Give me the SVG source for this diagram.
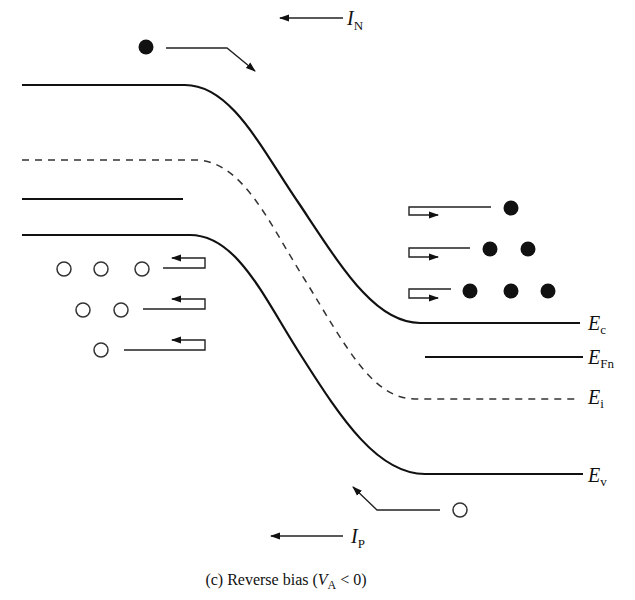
<svg xmlns="http://www.w3.org/2000/svg" width="635" height="600" viewBox="0 0 635 600">
<style>
.band{fill:none;stroke:#111;stroke-width:2.2}
.dash{fill:none;stroke:#333;stroke-width:1.5;stroke-dasharray:7,6}
.ar{fill:none;stroke:#222;stroke-width:1.4}
.e{fill:#111}
.h{fill:#fff;stroke:#333;stroke-width:1.5}
text{font-family:"Liberation Serif","Times New Roman",serif;fill:#111}
.lab{font-size:20px;font-style:italic}
.sub{font-size:13px;font-style:normal}
</style>
<defs>
<marker id="ah" markerWidth="10" markerHeight="8" refX="9" refY="4" orient="auto" markerUnits="userSpaceOnUse">
<path d="M0,0.5 L10,4 L0,7.5 Z" fill="#111"/>
</marker>
</defs>
<rect width="635" height="600" fill="#fff"/>
<g id="bands">
<path id="Ec" class="band" d="M22,85 H185 C232,85 262,150 300,205 C342,268 375,323 420,323 H580"/>
<path id="EFp" class="band" d="M22,199 H183"/>
<path id="Ei" class="dash" d="M22,160 H195 C243,160 270,225 305,280 C345,345 372,399 415,399 H580"/>
<path id="Ev" class="band" d="M22,235 H190 C238,235 265,300 302,357 C342,420 378,474 425,474 H583"/>
<path id="EFn" class="band" d="M425,357 H583"/>
</g>
<g id="labels">
<text class="lab" x="588" y="330">E<tspan class="sub" dy="4">c</tspan></text>
<text class="lab" x="588" y="364">E<tspan class="sub" dy="4">Fn</tspan></text>
<text class="lab" x="588" y="404">E<tspan class="sub" dy="4">i</tspan></text>
<text class="lab" x="588" y="482">E<tspan class="sub" dy="4">v</tspan></text>
<text class="lab" x="347" y="25">I<tspan class="sub" dy="5">N</tspan></text>
<text class="lab" x="351" y="543">I<tspan class="sub" dy="5">P</tspan></text>
<text x="286" y="585" font-size="16" text-anchor="middle">(c) Reverse bias (<tspan font-style="italic">V</tspan><tspan font-size="12" dy="4">A</tspan><tspan dy="-4"> &lt; 0)</tspan></text>
</g>
<g id="connectors">
<path class="ar" d="M343,18 H280" marker-end="url(#ah)"/>
<path class="ar" d="M166,48 H227 L255,71" marker-end="url(#ah)"/>
<path class="ar" d="M343,536 H271" marker-end="url(#ah)"/>
<path class="ar" d="M440,510 H377 L353,487" marker-end="url(#ah)"/>
<path class="ar" d="M491,207 H409 V215 H438" marker-end="url(#ah)"/>
<path class="ar" d="M470,248 H409 V257 H438" marker-end="url(#ah)"/>
<path class="ar" d="M451,289 H409 V298 H438" marker-end="url(#ah)"/>
<path class="ar" d="M163,268 H205 V258 H172" marker-end="url(#ah)"/>
<path class="ar" d="M143,309 H205 V299 H172" marker-end="url(#ah)"/>
<path class="ar" d="M124,350 H205 V340 H172" marker-end="url(#ah)"/>
</g>
<g id="electrons">
<circle class="e" cx="146" cy="47" r="7.5"/>
<circle class="e" cx="511" cy="208" r="7.5"/>
<circle class="e" cx="490" cy="249" r="7.5"/>
<circle class="e" cx="528" cy="249" r="7.5"/>
<circle class="e" cx="470" cy="291" r="7.5"/>
<circle class="e" cx="511" cy="291" r="7.5"/>
<circle class="e" cx="548" cy="291" r="7.5"/>
</g>
<g id="holes">
<circle class="h" cx="64" cy="269" r="7"/>
<circle class="h" cx="101" cy="269" r="7"/>
<circle class="h" cx="142" cy="269" r="7"/>
<circle class="h" cx="83" cy="310" r="7"/>
<circle class="h" cx="121" cy="310" r="7"/>
<circle class="h" cx="101" cy="350" r="7"/>
<circle class="h" cx="460" cy="510" r="7"/>
</g>
</svg>
